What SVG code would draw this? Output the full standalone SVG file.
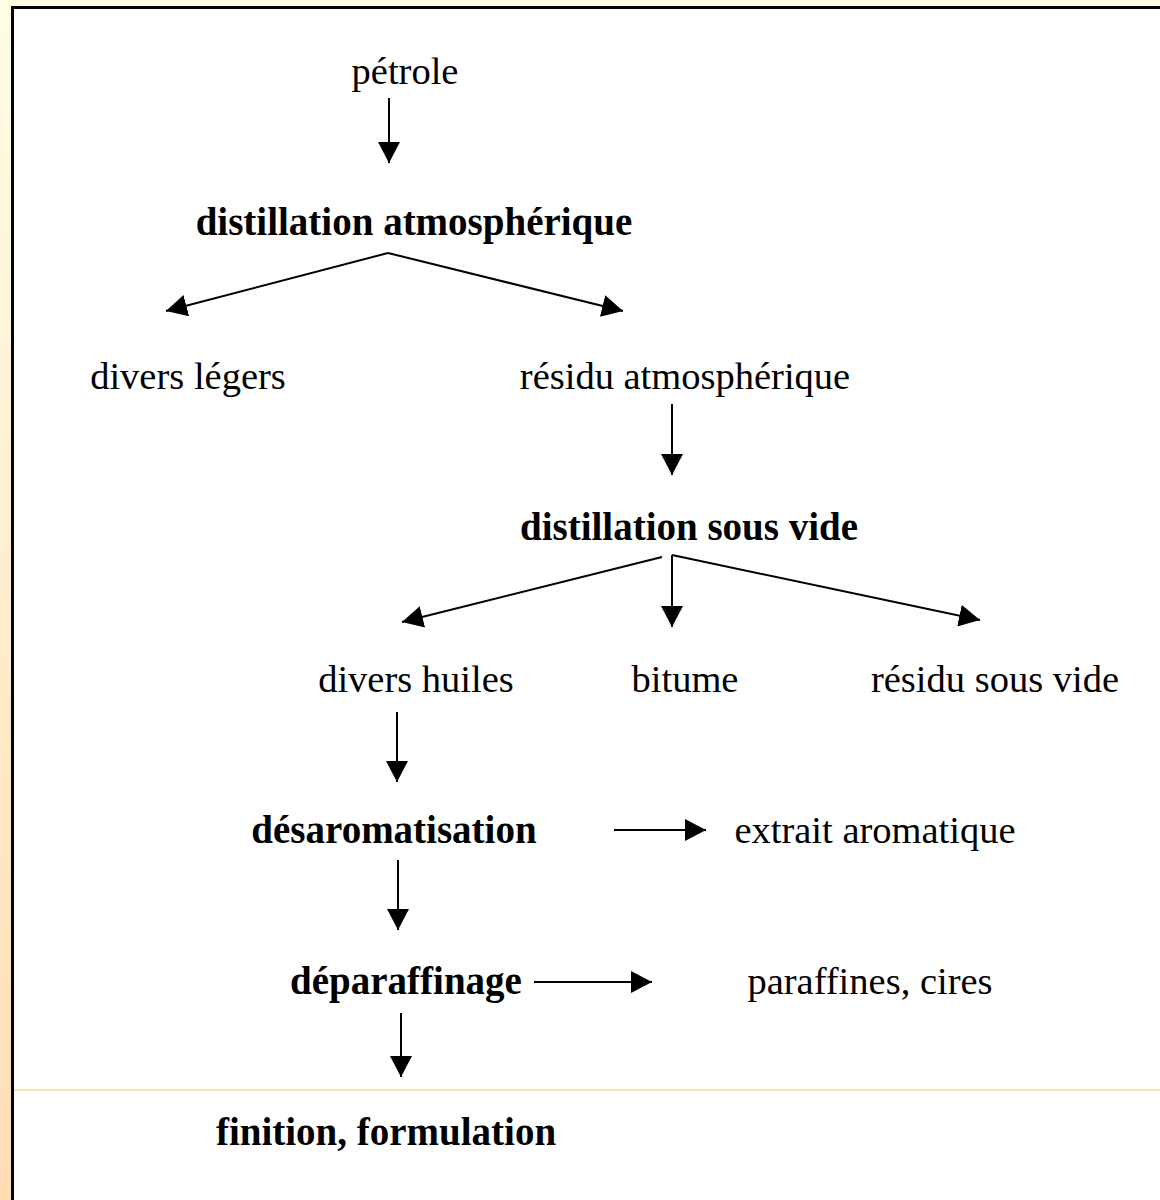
<svg xmlns="http://www.w3.org/2000/svg" width="1160" height="1200" viewBox="0 0 1160 1200">
<defs>
<linearGradient id="bg" x1="0" y1="0" x2="0" y2="1">
<stop offset="0" stop-color="#FFFDE6"/>
<stop offset="1" stop-color="#FEDDB5"/>
</linearGradient>
<marker id="ah" viewBox="0 0 21 22" refX="21" refY="11" markerWidth="21" markerHeight="22" markerUnits="userSpaceOnUse" orient="auto">
<path d="M0,0 L21,11 L0,22 z" fill="#000"/>
</marker>
<style>
text{font-family:"Liberation Serif","Times New Roman",serif;font-size:38.5px;fill:#000;text-anchor:middle}
.b{font-weight:bold;font-size:39px}
.c line{stroke:#000;stroke-width:2;marker-end:url(#ah)}
</style>
</defs>
<rect x="0" y="0" width="1160" height="1200" fill="url(#bg)"/>
<rect x="14" y="9" width="1146" height="1191" fill="#fff"/>
<rect x="11" y="6" width="1149" height="3" fill="#000"/>
<rect x="11" y="6" width="3" height="1194" fill="#000"/>
<line x1="14" y1="1090" x2="1160" y2="1090" stroke="#FFE0B0" stroke-width="2"/>
<g id="n-petrole"><text x="405" y="84">pétrole</text></g>
<g id="n-distatm"><text class="b" x="414" y="235">distillation atmosphérique</text></g>
<g id="n-legers"><text x="188" y="389">divers légers</text></g>
<g id="n-residuatm"><text x="685" y="389">résidu atmosphérique</text></g>
<g id="n-distvide"><text class="b" x="689" y="540">distillation sous vide</text></g>
<g id="n-huiles"><text x="416" y="692">divers huiles</text></g>
<g id="n-bitume"><text x="685" y="692">bitume</text></g>
<g id="n-residuvide"><text x="995" y="692">résidu sous vide</text></g>
<g id="n-desarom"><text class="b" x="394" y="843">désaromatisation</text></g>
<g id="n-extrait"><text x="875" y="843">extrait aromatique</text></g>
<g id="n-deparaf"><text class="b" x="406" y="994">déparaffinage</text></g>
<g id="n-paraffines"><text x="870" y="994">paraffines, cires</text></g>
<g id="n-finition"><text class="b" x="386" y="1145">finition, formulation</text></g>
<g id="connectors" class="c">
<line x1="389" y1="98" x2="389" y2="163"/>
<line x1="388" y1="253" x2="166" y2="311"/>
<line x1="388" y1="253" x2="623" y2="311"/>
<line x1="672" y1="404" x2="672" y2="475"/>
<line x1="662" y1="557" x2="402" y2="622"/>
<line x1="672" y1="555" x2="672" y2="627"/>
<line x1="672" y1="555" x2="980" y2="620"/>
<line x1="397" y1="712" x2="397" y2="782"/>
<line x1="614" y1="830" x2="706" y2="830"/>
<line x1="398" y1="860" x2="398" y2="930"/>
<line x1="534" y1="982" x2="652" y2="982"/>
<line x1="401" y1="1013" x2="401" y2="1077"/>
</g>
</svg>
